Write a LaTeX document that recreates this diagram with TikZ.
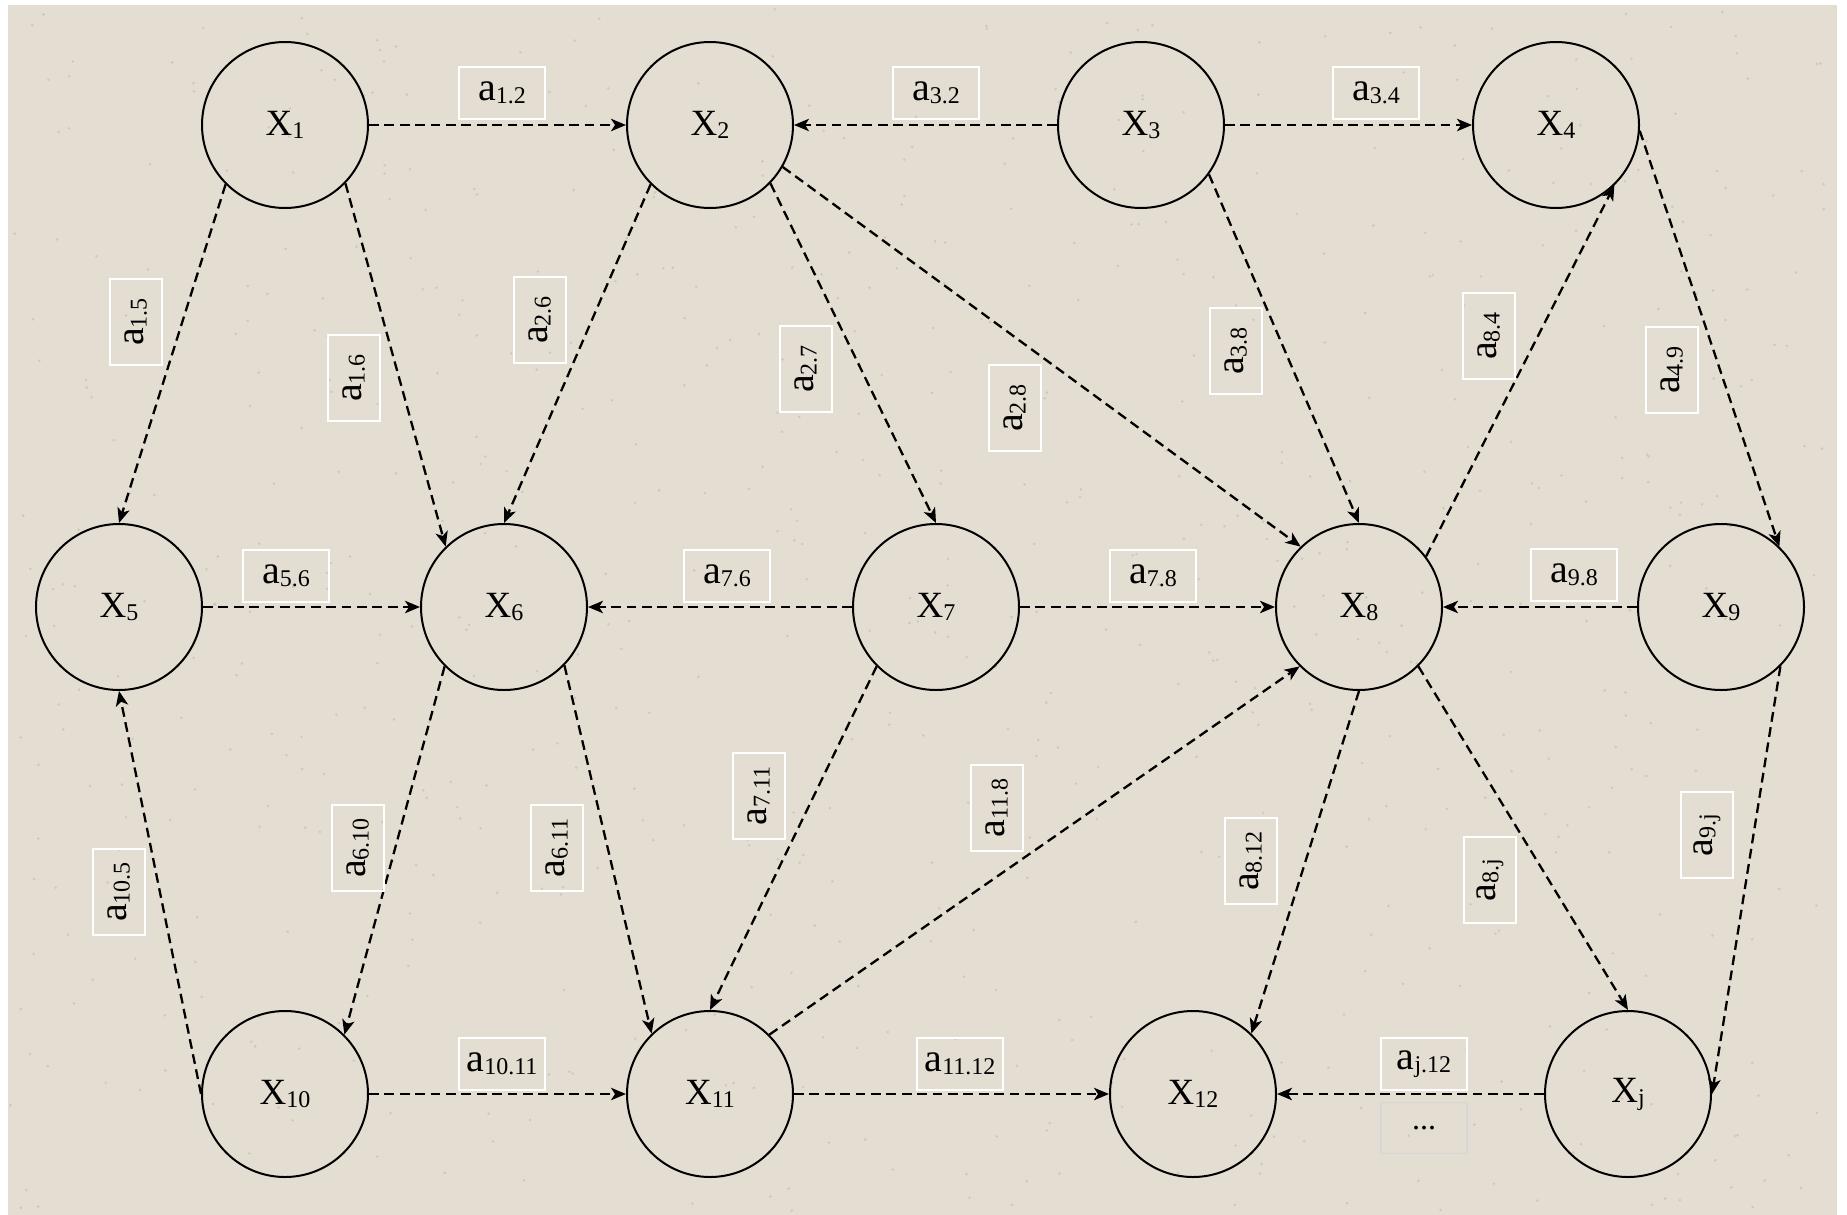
\documentclass[tikz,border=0pt]{standalone}
\usepackage{fontspec}
\setmainfont{Liberation Serif}
\usetikzlibrary{arrows.meta}
\definecolor{bgbeige}{RGB}{228,221,209}
\definecolor{speck}{RGB}{170,160,145}
\definecolor{dotsgrey}{RGB}{214,214,214}
\newcommand\sbx[1]{\raisebox{-1.5pt}{\fontsize{12}{12}\selectfont #1}}
\begin{document}
\begin{tikzpicture}[x=0.5pt,y=-0.5pt,
  state/.style={circle,draw=black,line width=1pt,minimum size=83pt,inner sep=0pt,font=\fontsize{18.5}{20}\selectfont},
  lab/.style={draw=white,line width=0.9pt,minimum width=43pt,minimum height=26pt,inner sep=0pt,font=\fontsize{20}{22}\selectfont},
  vlab/.style={lab,rotate=90},
  link/.style={line width=1.15pt,dash pattern=on 4.9pt off 2.8pt,-{Stealth[length=7.5pt,width=6.2pt,inset=2pt]}}]
\useasboundingbox (0,0) rectangle (1847,1215);
\fill[white] (0,0) rectangle (1847,1215);
\fill[bgbeige] (8,5) rectangle (1837,1215);
% faint paper specks
\pgfmathsetseed{11}
\foreach \i in {1,...,700} {
  \fill[speck,opacity=0.35] ({10+1825*rnd},{7+1206*rnd}) circle (0.7pt);
}
% nodes
\node[state] (X1) at (285,125) {X\sbx{1}};
\node[state] (X2) at (710,125) {X\sbx{2}};
\node[state] (X3) at (1141,125) {X\sbx{3}};
\node[state] (X4) at (1556,125) {X\sbx{4}};
\node[state] (X5) at (119,607) {X\sbx{5}};
\node[state] (X6) at (504,607) {X\sbx{6}};
\node[state] (X7) at (936,607) {X\sbx{7}};
\node[state] (X8) at (1359,607) {X\sbx{8}};
\node[state] (X9) at (1721,607) {X\sbx{9}};
\node[state] (X10) at (285,1094) {X\sbx{10}};
\node[state] (X11) at (710,1094) {X\sbx{11}};
\node[state] (X12) at (1193,1094) {X\sbx{12}};
\node[state] (Xj) at (1628,1094) {X\sbx{j}};
% connectors
\draw[link] (X1.east) -- (X2.west);
\draw[link] (X3.west) -- (X2.east);
\draw[link] (X3.east) -- (X4.west);
\draw[link] (X1.225) -- (X5.north);
\draw[link] (X1.316) -- (X6.134);
\draw[link] (X2.225) -- (X6.north);
\draw[link] (X2.316) -- (X7.north);
\draw[link] (X2.330) -- (X8.134);
\draw[link] (X3.324) -- (X8.north);
\draw[link] (X8.37) -- (X4.314);
\draw[link] (X4.356) -- (X9.46);
\draw[link] (X5.east) -- (X6.west);
\draw[link] (X7.west) -- (X6.east);
\draw[link] (X7.east) -- (X8.west);
\draw[link] (X9.west) -- (X8.east);
\draw[link] (X6.225) -- (X10.45);
\draw[link] (X6.316) -- (X11.134);
\draw[link] (X7.225) -- (X11.north);
\draw[link] (X11.45) -- (X8.225);
\draw[link] (X10.west) -- (X5.south);
\draw[link] (X8.south) -- (X12.46);
\draw[link] (X8.315) -- (Xj.north);
\draw[link] (X9.315) -- (Xj.east);
\draw[link] (X10.east) -- (X11.west);
\draw[link] (X11.east) -- (X12.west);
\draw[link] (Xj.west) -- (X12.east);
% labels
\node[lab] (l12) at (502,93) {a\sbx{1.2}};
\node[lab] (l32) at (936,93) {a\sbx{3.2}};
\node[lab] (l34) at (1376,93) {a\sbx{3.4}};
\node[vlab] (l15) at (136,322) {a\sbx{1.5}};
\node[vlab] (l16) at (354,378) {a\sbx{1.6}};
\node[vlab] (l26) at (540,320) {a\sbx{2.6}};
\node[vlab] (l27) at (806,369) {a\sbx{2.7}};
\node[vlab] (l28) at (1015,408) {a\sbx{2.8}};
\node[vlab] (l38) at (1236,351) {a\sbx{3.8}};
\node[vlab] (l84) at (1489,336) {a\sbx{8.4}};
\node[vlab] (l49) at (1672,370) {a\sbx{4.9}};
\node[lab] (l56) at (286,576) {a\sbx{5.6}};
\node[lab] (l76) at (727,576) {a\sbx{7.6}};
\node[lab] (l78) at (1153,576) {a\sbx{7.8}};
\node[lab] (l98) at (1574,575) {a\sbx{9.8}};
\node[vlab] (l610) at (358,848) {a\sbx{6.10}};
\node[vlab] (l611) at (557,848) {a\sbx{6.11}};
\node[vlab] (l711) at (759,796) {a\sbx{7.11}};
\node[vlab] (l118) at (997,808) {a\sbx{11.8}};
\node[vlab] (l105) at (119,892) {a\sbx{10.5}};
\node[vlab] (l812) at (1251,861) {a\sbx{8.12}};
\node[vlab] (l8j) at (1490,880) {a\sbx{8.j}};
\node[vlab] (l9j) at (1707,835) {a\sbx{9.j}};
\node[lab] (l1011) at (502,1064) {a\sbx{10.11}};
\node[lab] (l1112) at (960,1064) {a\sbx{11.12}};
\node[lab] (lj12) at (1424,1064) {a\sbx{j.12}};
\node[draw=dotsgrey,line width=0.8pt,minimum width=43pt,minimum height=25.5pt,inner sep=0pt,font=\fontsize{16}{16}\selectfont] (dots) at (1424,1128) {...};
\end{tikzpicture}
\end{document}
